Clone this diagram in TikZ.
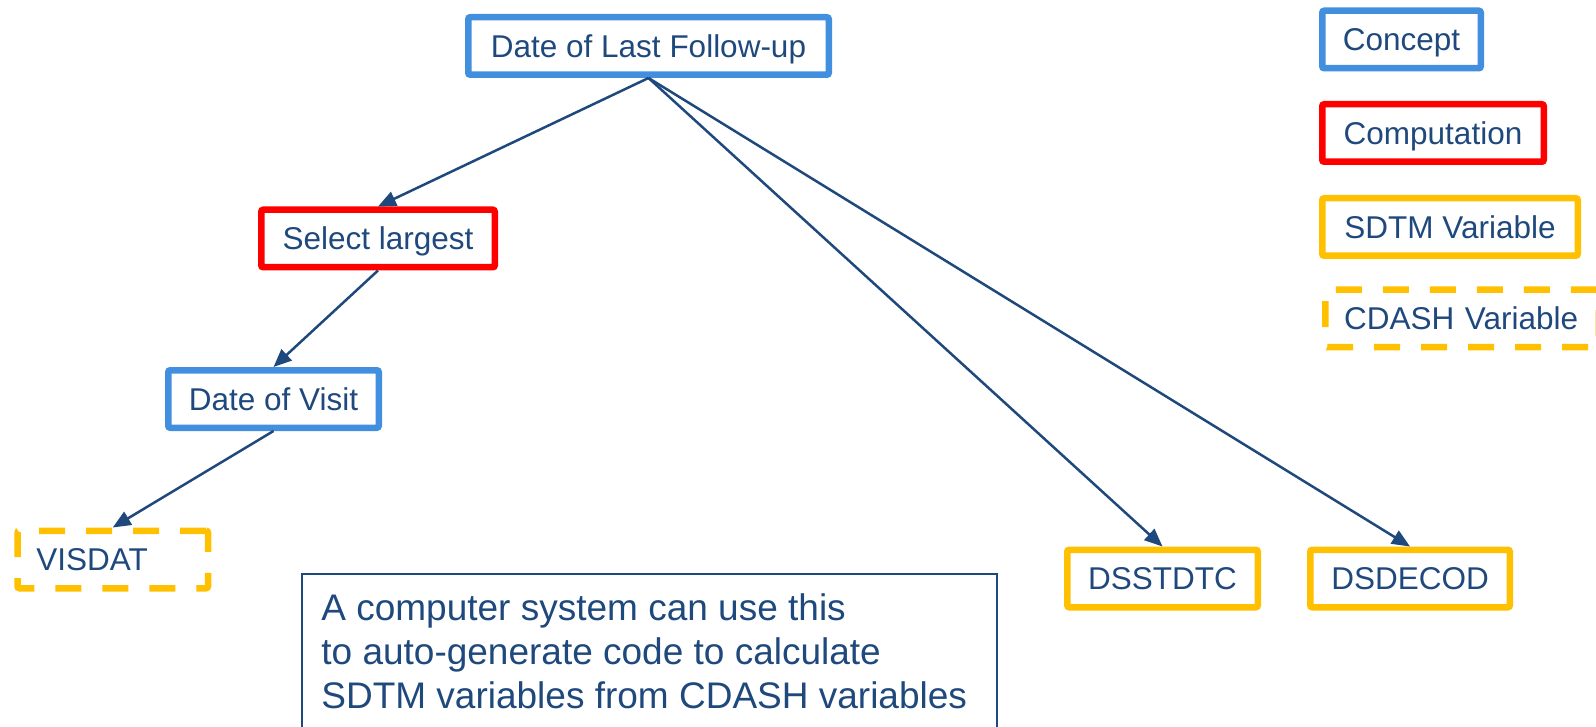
\documentclass[tikz,border=0pt]{standalone}
\usepackage{fontspec}
\setmainfont{Liberation Sans}
\usetikzlibrary{arrows.meta}
\definecolor{ink}{RGB}{31,73,125}
\definecolor{conceptblue}{RGB}{65,143,222}
\definecolor{compred}{RGB}{255,0,0}
\definecolor{varyellow}{RGB}{255,192,0}

\begin{document}
\begin{tikzpicture}[x=0.5pt,y=-0.5pt,
  box/.style={draw, line width=3.25pt, rounded corners=1pt, minimum height=28.75pt,
    inner sep=0pt, text=ink, font=\fontsize{15.75pt}{18pt}\selectfont,
    text height=11.28pt, text depth=0pt},
  concept/.style={box, draw=conceptblue},
  computation/.style={box, draw=compred},
  sdtm/.style={box, draw=varyellow},
  cdash/.style={box, draw=varyellow, dash pattern=on 13pt off 10.5pt,
    inner xsep=9.4pt, align=left},
  link/.style={draw=ink, line width=1.25pt, -{Triangle[length=9pt,width=7.5pt]}},
  notebox/.style={draw=ink, line width=1pt, inner sep=0pt},
  notetext/.style={text=ink, inner sep=0pt, align=left,
    font=\fontsize{18.5pt}{22pt}\selectfont}
]
\useasboundingbox (0,0) rectangle (1596,727);

% concept tree
\node[concept, minimum width=180.25pt] (top) at (648.5,46) {Date of Last Follow-up};
\node[computation, minimum width=116.75pt] (sel) at (378,238.5) {Select largest};
\node[concept, minimum width=105.25pt] (visit) at (273.5,399) {Date of Visit};
\node[cdash, text width=76.45pt, anchor=west] (visdat) at (14.25,559.5) {VISDAT};
\node[sdtm, minimum width=95.25pt] (dsstdtc) at (1162.5,578.5) {DSSTDTC};
\node[sdtm, minimum width=99.75pt] (dsdecod) at (1410,578.5) {DSDECOD};

\draw[link] (top.south) -- (sel.north);
\draw[link] (sel.south) -- (visit.north);
\draw[link] (visit.south) -- (visdat.north);
\draw[link] (top.south) -- (dsstdtc.north);
\draw[link] (top.south) -- (dsdecod.north);

% legend
\node[concept, minimum width=79.25pt] (lconcept) at (1401.5,39.5) {Concept};
\node[computation, minimum width=110.75pt] (lcomp) at (1433,133) {Computation};
\node[sdtm, minimum width=127.75pt] (lsdtm) at (1450,227) {SDTM Variable};
\node[cdash, text width=118pt, anchor=west] (lcdash) at (1322,318.5) {CDASH Variable};

% note
\node[notebox, anchor=north west, minimum width=347.5pt, minimum height=100pt] (note) at (301,573) {};
\node[notetext, anchor=north west] (notetext) at (321,593) {A computer system can use this\\to auto-generate code to calculate\\SDTM variables from CDASH variables};
\end{tikzpicture}
\end{document}
